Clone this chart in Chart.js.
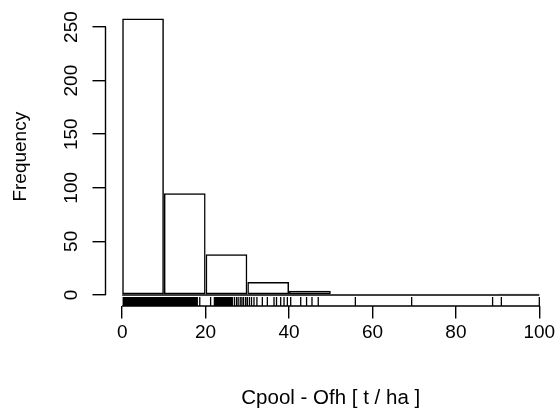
<!DOCTYPE html>
<html>
<head>
<meta charset="utf-8">
<script src="https://cdn.jsdelivr.net/npm/chart.js@4/dist/chart.umd.min.js"></script>
<style>
  body { margin: 0; background: #fff; }
  canvas { display: block; }
</style>
</head>
<body>
<canvas id="histograma" width="556" height="410"></canvas>
<script>
// Histograma Cpool - Ofh con rug (estilo R)

const binEdges = [0, 10, 20, 30, 40, 50, 60, 70, 80, 90, 100];
const counts = [258, 95, 38, 12, 4, 0, 0, 0, 0, 1];
const xTicks = [0, 20, 40, 60, 80, 100];
const yTicks = [0, 50, 100, 150, 200, 250];

// valores individuales (rug)
const rugValues = [
  0.25, 0.5, 0.75, 1, 1.25, 1.5, 1.75, 2, 2.25, 2.5, 2.75, 3, 3.25, 3.5, 3.75, 4,
  4.25, 4.5, 4.75, 5, 5.25, 5.5, 5.75, 6, 6.25, 6.5, 6.75, 7, 7.25, 7.5, 7.75, 8,
  8.25, 8.5, 8.75, 9, 9.25, 9.5, 9.75, 10, 10.25, 10.5, 10.75, 11, 11.25, 11.5, 11.75, 12,
  12.25, 12.5, 12.75, 13, 13.25, 13.5, 13.75, 14, 14.25, 14.5, 14.75, 15, 15.25, 15.5, 15.75, 16,
  16.25, 16.5, 16.75, 17, 17.25, 17.5, 17.75, 18,
  18.6, 21.2, 22.1, 22.4, 22.65, 22.9, 23.15, 23.4, 23.65, 23.9, 24.15, 24.4, 24.65, 24.9,
  25.15, 25.4, 25.65, 25.9, 26.15, 26.4, 26.9, 27.4, 27.8, 28.3, 28.7, 29.1, 29.6, 30.0,
  30.5, 31.0, 31.6, 32.3, 33.6, 34.8, 36.4, 37.0, 38.0, 38.8, 39.6, 40.4,
  42.8, 44.2, 45.5, 47.0, 55.9, 69.4, 88.8, 90.9, 100
];

// rango con 4% extra, como hace R
const xMin = binEdges[0], xMax = binEdges[binEdges.length - 1];
const yMax = Math.max(...counts);
const xPad = (xMax - xMin) * 0.04;
const yPad = yMax * 0.04;

Chart.defaults.font.family = '"Liberation Sans", Arial, Helvetica, sans-serif';
Chart.defaults.color = '#000';

// Plugin: ejes estilo R (línea solo entre primer y último tick) + rug
const ejesR = {
  id: 'ejesR',
  afterDraw(chart) {
    const { ctx, chartArea, scales } = chart;
    const x = scales.x, y = scales.y;
    ctx.save();
    ctx.strokeStyle = '#000';

    // rug
    const largo = (chartArea.bottom - chartArea.top) * 0.03;
    ctx.lineWidth = 1.3;
    ctx.beginPath();
    rugValues.forEach(v => {
      const px = x.getPixelForValue(v);
      ctx.moveTo(px, chartArea.bottom);
      ctx.lineTo(px, chartArea.bottom - largo);
    });
    ctx.stroke();

    // líneas de ejes
    ctx.lineWidth = 1.4;
    ctx.beginPath();
    ctx.moveTo(x.getPixelForValue(xTicks[0]), chartArea.bottom);
    ctx.lineTo(x.getPixelForValue(xTicks[xTicks.length - 1]), chartArea.bottom);
    ctx.moveTo(chartArea.left, y.getPixelForValue(yTicks[0]));
    ctx.lineTo(chartArea.left, y.getPixelForValue(yTicks[yTicks.length - 1]));
    ctx.stroke();
    ctx.restore();
  }
};

const barras = counts.map((c, i) => ({ x: (binEdges[i] + binEdges[i + 1]) / 2, y: c }));

new Chart(document.getElementById('histograma').getContext('2d'), {
  type: 'bar',
  data: {
    datasets: [{
      type: 'bar',
      data: barras,
      backgroundColor: 'rgba(0,0,0,0)',
      borderColor: '#000',
      borderWidth: 1.5,
      borderSkipped: false,
      inflateAmount: 0,
      categoryPercentage: 1,
      barPercentage: 1
    }, {
      type: 'line',
      data: [{ x: xMin, y: 0 }, { x: xMax, y: 0 }],
      borderColor: '#000',
      borderWidth: 1.4,
      pointRadius: 0,
      fill: false
    }]
  },
  options: {
    responsive: false,
    animation: false,
    devicePixelRatio: 1,
    layout: { padding: 0 },
    plugins: { legend: { display: false }, tooltip: { enabled: false } },
    scales: {
      x: {
        type: 'linear',
        offset: false,
        min: xMin - xPad,
        max: xMax + xPad,
        afterBuildTicks: s => { s.ticks = xTicks.map(v => ({ value: v })); },
        afterFit: s => { s.height = 104; s.paddingLeft = 0; s.paddingRight = 0; },
        border: { display: false },
        grid: { offset: false, drawOnChartArea: false, drawTicks: true, tickLength: 12.5, color: '#000', lineWidth: 1.4 },
        ticks: { font: { size: 19 }, padding: 3, maxRotation: 0, autoSkip: false },
        title: { display: true, text: 'Cpool - Ofh [ t / ha ]', font: { size: 20.5, lineHeight: 1 }, padding: { top: 0, bottom: 1 } }
      },
      y: {
        min: -yPad,
        max: yMax + yPad,
        afterBuildTicks: s => { s.ticks = yTicks.map(v => ({ value: v })); },
        afterFit: s => { s.width = 105.5; s.paddingTop = 7.4; s.paddingBottom = 0; },
        border: { display: false },
        grid: { drawOnChartArea: false, drawTicks: true, tickLength: 13, color: '#000', lineWidth: 1.4 },
        ticks: { font: { size: 19 }, padding: 4.5, minRotation: 90, maxRotation: 90, crossAlign: 'center', autoSkip: false },
        title: { display: true, text: 'Frequency', font: { size: 19, lineHeight: 1 }, padding: { top: 11.5, bottom: 0 } }
      }
    }
  },
  plugins: [ejesR]
});
</script>
</body>
</html>
